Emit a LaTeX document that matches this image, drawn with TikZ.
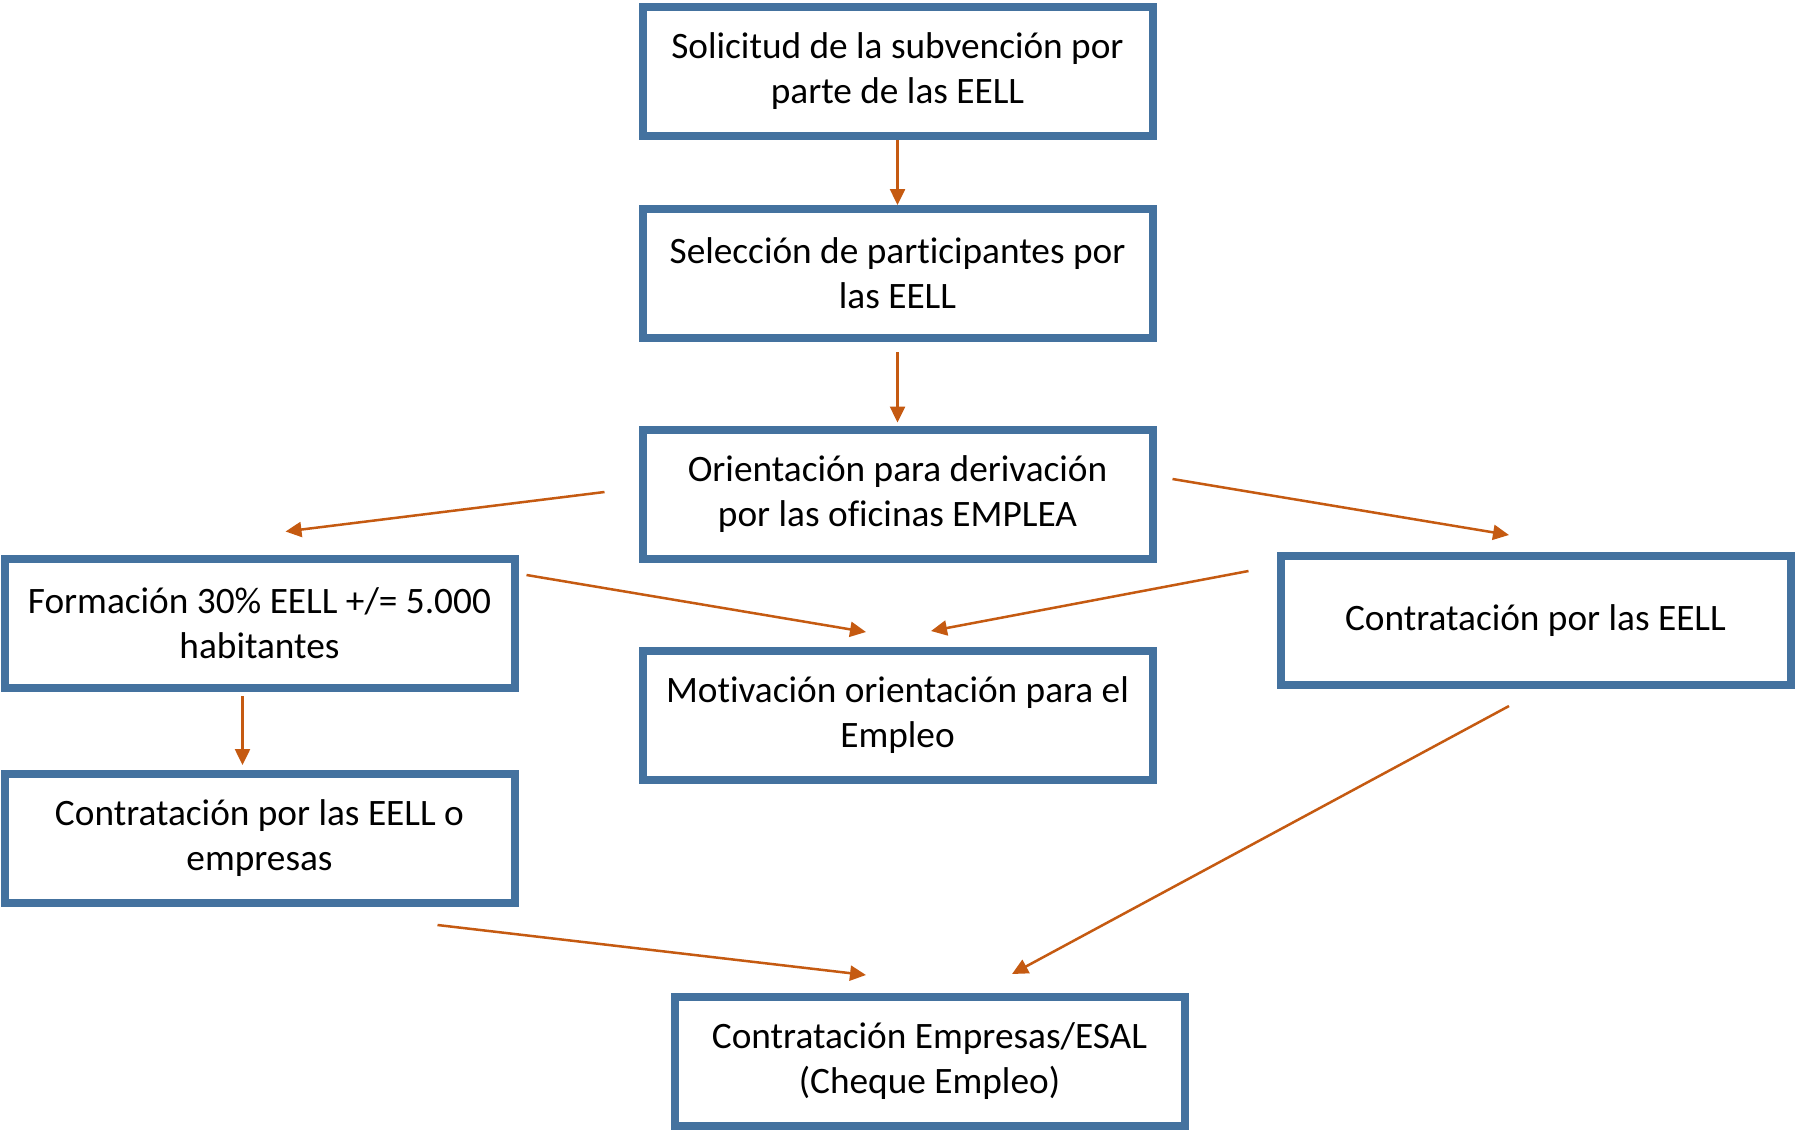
\documentclass[tikz,border=0pt]{standalone}
\usepackage{fontspec}
\setmainfont{Carlito}[Ligatures=NoCommon]
\usetikzlibrary{arrows.meta,calc}
\definecolor{boxblue}{HTML}{44729F}
\definecolor{arrorange}{HTML}{C55A11}
\begin{document}
\begin{tikzpicture}[x=1pt,y=-1pt,
  flowbox/.style={draw=boxblue,line width=8pt,minimum width=510pt,minimum height=129pt,
    inner sep=0pt,align=center,font=\fontsize{37.3}{45}\selectfont,fill=white},
  arr/.style={draw=arrorange,line width=2.5pt,-{Triangle[length=16pt,width=15pt]}}]
\useasboundingbox[fill=white] (0,0) rectangle (1795,1130);
\node[flowbox] (sol) at (897.5,71) {Solicitud de la subvención por\\parte de las EELL};
\node[flowbox] (sel) at (897.5,273.5) {Selección de participantes por\\las EELL};
\node[flowbox] (ori) at (897.5,494) {Orientación para derivación\\por las oficinas EMPLEA};
\node[flowbox] (for) at (259.5,623) {Formación 30\% EELL +/= 5.000\\habitantes};
\node[flowbox] (mot) at (897.5,715.5) {Motivación orientación para el\\Empleo};
\node[flowbox] (ctr) at (1535.5,620.5) {Contratación por las EELL};
\node[flowbox] (emp) at (259.5,838) {Contratación por las EELL o\\empresas};
\node[flowbox] (esal) at (929.5,1061.5) {Contratación Empresas/ESAL\\(Cheque Empleo)};
\draw[arr] (sol.south) -- (sel.north);
\draw[arr] ($(sel.south)+(0,10)$) -- ($(ori.north)+(0,-3)$);
\draw[arr] ($(ori.west)+(-34,-2)$) -- ($(for.north)+(26,-23)$);
\draw[arr] ($(ori.east)+(16,-15)$) -- ($(ctr.north)+(-26.5,-17)$);
\draw[arr] ($(for.east)+(8,-48)$) -- ($(mot.north)+(-31.5,-15)$);
\draw[arr] ($(ctr.west)+(-28,-49.5)$) -- ($(mot.north)+(33.5,-16)$);
\draw[arr] ($(for.south)+(-17,4.5)$) -- ($(emp.north)+(-17,-4.5)$);
\draw[arr] ($(emp.south)+(178,18.5)$) -- ($(esal.north)+(-63.5,-18)$);
\draw[arr] ($(ctr.south)+(-26.5,17)$) -- ($(esal.north)+(82.5,-19)$);
\end{tikzpicture}
\end{document}
